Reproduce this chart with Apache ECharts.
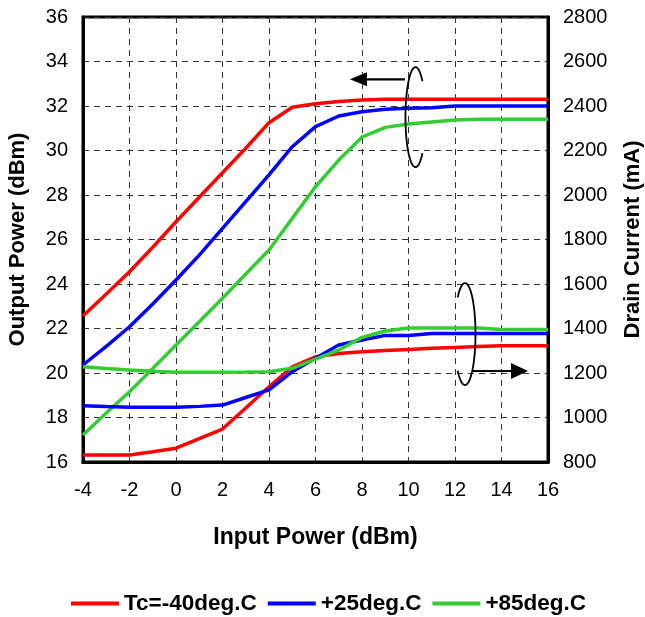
<!DOCTYPE html>
<html><head><meta charset="utf-8">
<script src="https://cdn.jsdelivr.net/npm/echarts@6/dist/echarts.min.js"></script>
<style>html,body{margin:0;padding:0;background:#fff;overflow:hidden}#c{width:645px;height:617px}</style>
</head><body><div id="c"></div>
<script>
const inputPower = [-4,-3,-2,-1,0,1,2,3,4,5,6,7,8,9,10,11,12,13,14,15,16];
const poutM40 = [22.56,23.55,24.55,25.65,26.8,27.9,29.0,30.1,31.25,31.94,32.1,32.2,32.27,32.3,32.3,32.3,32.3,32.3,32.3,32.3,32.3];
const pout25  = [20.36,21.2,22.08,23.1,24.18,25.3,26.5,27.7,28.9,30.17,31.07,31.55,31.74,31.85,31.9,31.92,32.0,32.0,32.0,32.0,32.0];
const pout85  = [17.21,18.2,19.16,20.2,21.26,22.3,23.36,24.45,25.53,26.95,28.37,29.57,30.6,31.04,31.19,31.28,31.37,31.4,31.4,31.4,31.4];
const idM40 = [831,831,831,846,862,905,948,1043,1138,1228,1273,1288,1296,1301,1306,1311,1315,1319,1323,1323,1323];
const id25  = [1053,1049,1046,1046,1046,1050,1056,1090,1124,1206,1266,1326,1348,1369,1369,1377,1377,1377,1377,1377,1377];
const id85  = [1228,1220,1213,1208,1203,1203,1203,1204,1206,1221,1262,1303,1360,1389,1402,1402,1402,1402,1395,1395,1395];
const seriesNames = ['Tc=-40deg.C','+25deg.C','+85deg.C'];
const colors = ['#FF0000','#0000FF','#33CC33'];
const xTicks = [-4,16,2];
const leftTicks = [16,36,2];
const rightTicks = [800,2800,200];

const FONT = 'Liberation Sans';
const pairs = arr => inputPower.map((x,i)=>[x,arr[i]]);
const mk = (name, arr, color, yIdx) => ({
  name, type:'line', yAxisIndex:yIdx, data:pairs(arr), symbol:'none',
  lineStyle:{color, width:3.5}, itemStyle:{color}, animation:false
});
const chart = echarts.init(document.getElementById('c'), null, {width:645, height:617});
const nameStyle = {fontFamily:FONT, fontSize:22, fontWeight:'bold', color:'#000'};
const option = {
  animation:false,
  textStyle:{fontFamily:FONT},
  grid:{left:83, right:97, top:17, bottom:155, show:true, borderColor:'#000', borderWidth:3,
        containLabel:false, outerBoundsMode:'none'},
  legend:{data:seriesNames, left:66, top:587, itemWidth:48, itemHeight:4, itemGap:11,
    icon:'rect', textStyle:{fontFamily:FONT, fontSize:22.5, fontWeight:'bold', color:'#000'}},
  xAxis:{type:'value', min:xTicks[0], max:xTicks[1], interval:xTicks[2],
    name:'Input Power (dBm)', nameLocation:'middle', nameGap:64,
    nameTextStyle:Object.assign({}, nameStyle, {fontSize:23}),
    axisLine:{onZero:false, lineStyle:{color:'#000', width:3}}, axisTick:{show:false},
    axisLabel:{fontFamily:FONT, fontSize:20, color:'#000', margin:18},
    splitLine:{show:true, lineStyle:{color:'#333', width:1, type:[6,5]}}},
  yAxis:[
    {type:'value', min:leftTicks[0], max:leftTicks[1], interval:leftTicks[2],
     name:'Output Power (dBm)', nameLocation:'middle', nameGap:54, nameTextStyle:nameStyle,
     axisLine:{show:true, onZero:false, lineStyle:{color:'#000', width:3}}, axisTick:{show:false},
     axisLabel:{fontFamily:FONT, fontSize:20, color:'#000', margin:15},
     splitLine:{show:true, lineStyle:{color:'#333', width:1, type:[6,5]}}},
    {type:'value', min:rightTicks[0], max:rightTicks[1], interval:rightTicks[2], position:'right',
     name:'Drain Current (mA)', nameLocation:'middle', nameGap:74, nameTextStyle:nameStyle,
     axisLine:{show:true, onZero:false, lineStyle:{color:'#000', width:3}}, axisTick:{show:false},
     axisLabel:{fontFamily:FONT, fontSize:20, color:'#000', margin:15, formatter: v => String(v)},
     splitLine:{show:false}}
  ],
  series:[
    mk(seriesNames[0], poutM40, colors[0], 0),
    mk(seriesNames[1], pout25, colors[1], 0),
    mk(seriesNames[2], pout85, colors[2], 0),
    mk(seriesNames[0], idM40, colors[0], 1),
    mk(seriesNames[1], id25, colors[1], 1),
    mk(seriesNames[2], id85, colors[2], 1)
  ]
};
chart.setOption(option);

function px(x, y, yIdx){ return chart.convertToPixel({xAxisIndex:0, yAxisIndex:yIdx}, [x,y]); }
function ellipsePts(cx, cy, a, b, t0, t1){
  const pts=[]; const n=60;
  for(let i=0;i<=n;i++){ const t=(t0+(t1-t0)*i/n)*Math.PI/180; pts.push([cx+a*Math.cos(t), cy+b*Math.sin(t)]); }
  return pts;
}
const up = px(10.3, 31.5, 0);
const upArrowStart = px(9.85, 33.2, 0), upArrowTip = px(7.48, 33.2, 0);
const lo = px(12.43, 1375, 1);
const loArrowStart = px(12.77, 1209, 1), loArrowTip = px(15.14, 1209, 1);
const black = {stroke:'#000', lineWidth:1.8, fill:null};
chart.setOption({graphic:[
  {type:'polyline', shape:{points:ellipsePts(up[0], up[1], 10, 50, -46, -314)}, style:black, z:100},
  {type:'line', shape:{x1:upArrowStart[0], y1:upArrowStart[1], x2:upArrowTip[0]+14, y2:upArrowTip[1]}, style:{stroke:'#000', lineWidth:2.2}, z:100},
  {type:'polygon', shape:{points:[[upArrowTip[0], upArrowTip[1]],[upArrowTip[0]+17, upArrowTip[1]-7],[upArrowTip[0]+17, upArrowTip[1]+7]]}, style:{fill:'#000'}, z:100},
  {type:'polyline', shape:{points:ellipsePts(lo[0], lo[1], 10.5, 51, -134, 134)}, style:black, z:100},
  {type:'line', shape:{x1:loArrowStart[0], y1:loArrowStart[1], x2:loArrowTip[0]-14, y2:loArrowTip[1]}, style:{stroke:'#000', lineWidth:2.2}, z:100},
  {type:'polygon', shape:{points:[[loArrowTip[0], loArrowTip[1]],[loArrowTip[0]-17, loArrowTip[1]-8],[loArrowTip[0]-17, loArrowTip[1]+8]]}, style:{fill:'#000'}, z:100}
]});
</script></body></html>
